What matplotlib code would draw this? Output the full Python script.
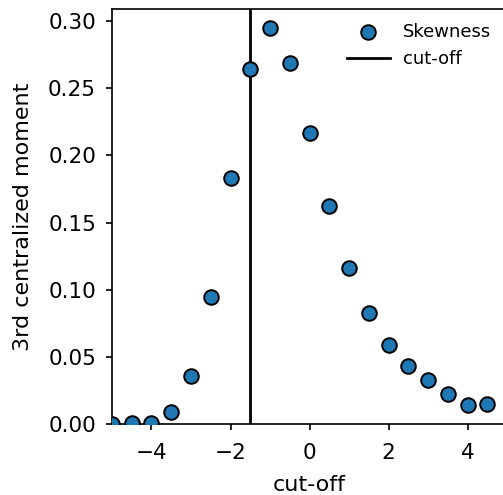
import matplotlib
matplotlib.use("Agg")
import matplotlib.pyplot as plt
import numpy as np

# cut-off values and 3rd centralized moment
cutoffs = [-5.0, -4.5, -4.0, -3.5, -3.0, -2.5, -2.0, -1.5, -1.0, -0.5,
           0.0, 0.5, 1.0, 1.5, 2.0, 2.5, 3.0, 3.5, 4.0, 4.5]
skewness = [0.0, 0.0005, 0.001, 0.0092, 0.0355, 0.0945, 0.183, 0.264, 0.2946, 0.269,
            0.217, 0.162, 0.116, 0.0826, 0.059, 0.0434, 0.0325, 0.0221, 0.0139, 0.0149]
cut_off = -1.5

fig = plt.figure(figsize=(5.03, 4.95), dpi=100)
ax = fig.add_axes([112 / 503, 71 / 495, 395 / 503, 415 / 495])

ax.scatter(cutoffs, skewness, s=110, color="#1f77b4", edgecolors="black",
           linewidths=1.4, label="Skewness", zorder=3)
ax.axvline(cut_off, color="black", linewidth=2.0, label="cut-off")

ax.set_xlim(-5, 5)
ax.set_ylim(0, 0.309)
ax.set_xticks([-4, -2, 0, 2, 4])
ax.set_yticks(np.arange(0, 0.31, 0.05))

ax.tick_params(axis="both", labelsize=15.5, length=4.5, width=1.2)
ax.tick_params(axis="x", pad=9)
ax.tick_params(axis="y", pad=7)
ax.set_xlabel("cut-off", fontsize=16, labelpad=9)
ax.set_ylabel("3rd centralized moment", fontsize=16, labelpad=11)
for sp in ax.spines.values():
    sp.set_linewidth(1.2)

ax.legend(loc="upper right", frameon=False, fontsize=13,
          bbox_to_anchor=(1.0, 1.005), handlelength=2.4, handletextpad=0.7)

fig.savefig("out.png", dpi=100)
